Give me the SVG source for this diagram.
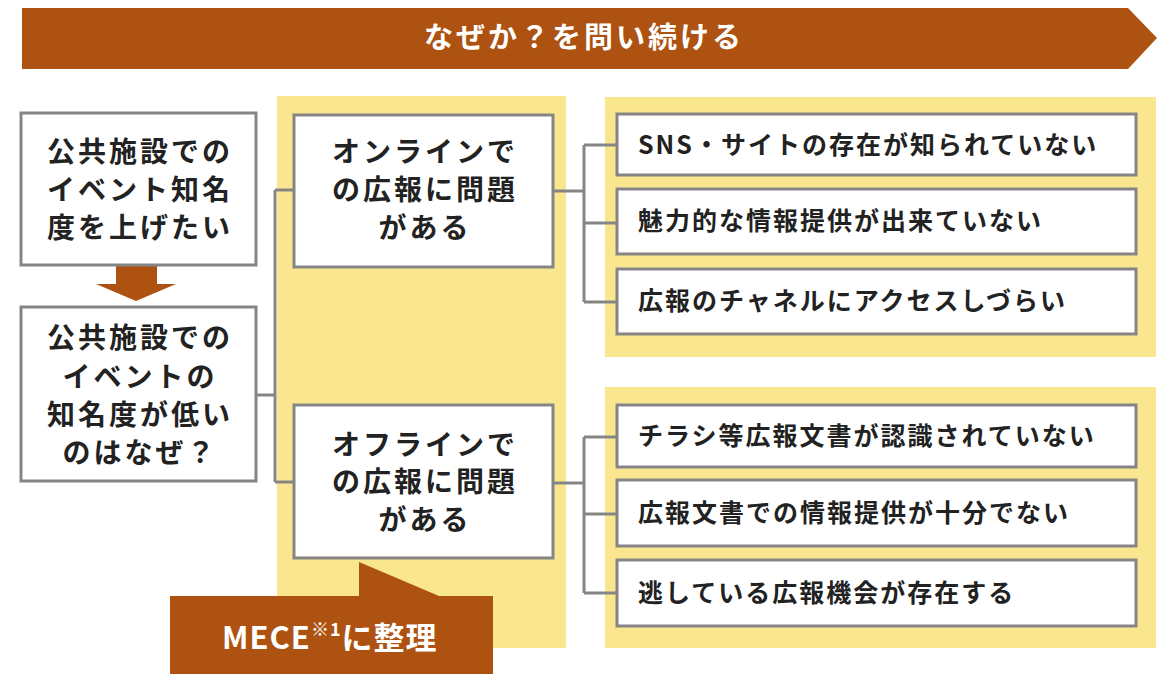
<svg xmlns="http://www.w3.org/2000/svg" width="1164" height="674" viewBox="0 0 1164 674">
<style>
.box{fill:#fff;stroke:#858585;stroke-width:3}
.panel{fill:#f9e68f}
.brown{fill:#ae5212}
.conn{fill:none;stroke:#858585;stroke-width:3}
.t{font-family:"Noto Sans CJK JP","Noto Sans",sans-serif;font-weight:700;fill:#222}
.big{font-size:28px;letter-spacing:3px;text-anchor:middle}
.small{font-size:25px;letter-spacing:2px}
.w{fill:#fff}
</style>
<rect width="1164" height="674" fill="#fff"/>
<g id="banner">
<polygon class="brown" points="22,8 1128,8 1157,38 1128,69 22,69"/>
<text class="t w" x="584" y="48" style="font-size:29px;letter-spacing:3px;text-anchor:middle">なぜか？を問い続ける</text>
</g>
<g id="panels">
<rect class="panel" x="277" y="96" width="289" height="552"/>
<rect class="panel" x="605" y="97" width="551" height="260"/>
<rect class="panel" x="605" y="387" width="551" height="261"/>
</g>
<g id="connectors">
<path class="conn" d="M256,395 H275 M275,190 V482 M275,190 H294 M275,482 H294"/>
<path class="conn" d="M553,191 H584 M584,145 V302 M584,145 H617 M584,223 H617 M584,302 H617"/>
<path class="conn" d="M553,483 H584 M584,437 V593 M584,437 H617 M584,514 H617 M584,593 H617"/>
</g>
<g id="arrow">
<polygon class="brown" points="116,265 157,265 157,284 176,284 136,301 96,284 116,284"/>
</g>
<g id="goal">
<rect class="box" x="21" y="113" width="235" height="152"/>
<text class="t big" x="140" y="162">公共施設での</text>
<text class="t big" x="140" y="200">イベント知名</text>
<text class="t big" x="140" y="238">度を上げたい</text>
</g>
<g id="question">
<rect class="box" x="21" y="307" width="235" height="174"/>
<text class="t big" x="140" y="348">公共施設での</text>
<text class="t big" x="140" y="387">イベントの</text>
<text class="t big" x="140" y="425">知名度が低い</text>
<text class="t big" x="140" y="463">のはなぜ？</text>
</g>
<g id="online">
<rect class="box" x="294" y="115" width="259" height="152"/>
<text class="t big" x="425" y="162">オンラインで</text>
<text class="t big" x="425" y="200">の広報に問題</text>
<text class="t big" x="425" y="238">がある</text>
</g>
<g id="offline">
<rect class="box" x="294" y="405" width="259" height="153"/>
<text class="t big" x="425" y="455">オフラインで</text>
<text class="t big" x="425" y="492">の広報に問題</text>
<text class="t big" x="425" y="530">がある</text>
</g>
<g id="r1">
<rect class="box" x="617" y="114" width="519" height="61"/>
<text class="t small" x="638" y="154">SNS・サイトの存在が知られていない</text>
</g>
<g id="r2">
<rect class="box" x="617" y="189" width="519" height="65"/>
<text class="t small" x="638" y="230">魅力的な情報提供が出来ていない</text>
</g>
<g id="r3">
<rect class="box" x="617" y="269" width="519" height="65"/>
<text class="t small" x="638" y="310">広報のチャネルにアクセスしづらい</text>
</g>
<g id="r4">
<rect class="box" x="617" y="405" width="519" height="62"/>
<text class="t small" x="638" y="445">チラシ等広報文書が認識されていない</text>
</g>
<g id="r5">
<rect class="box" x="617" y="480" width="519" height="66"/>
<text class="t small" x="638" y="522">広報文書での情報提供が十分でない</text>
</g>
<g id="r6">
<rect class="box" x="617" y="560" width="519" height="66"/>
<text class="t small" x="638" y="602">逃している広報機会が存在する</text>
</g>
<g id="mece">
<polygon class="brown" points="170,596 359,596 359,562 439,596 493,596 493,674 170,674"/>
<text class="t w" x="222" y="649" font-size="31" letter-spacing="1">MECE<tspan font-size="18" dy="-13">※1</tspan><tspan dy="13">に整理</tspan></text>
</g>
</svg>
